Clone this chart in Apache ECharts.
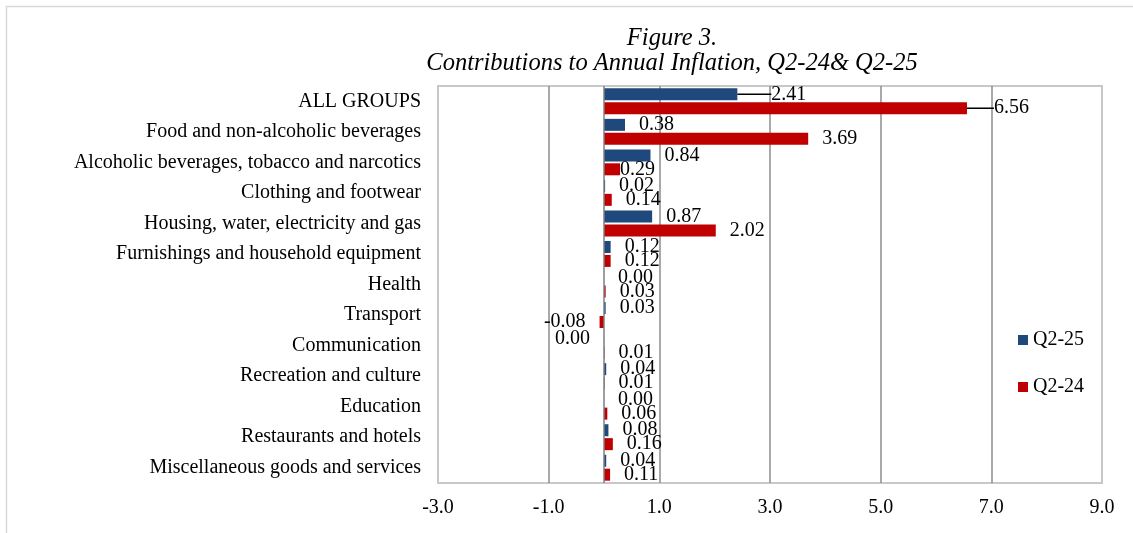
<!DOCTYPE html>
<html>
<head>
<meta charset="utf-8">
<script src="https://cdn.jsdelivr.net/npm/echarts@6/dist/echarts.min.js"></script>
<style>
html,body{margin:0;padding:0;background:#fff;}
#chart{width:1133px;height:533px;}
</style>
</head>
<body>
<div id="chart"></div>
<script>
const categories = [
  'ALL GROUPS',
  'Food and non-alcoholic beverages',
  'Alcoholic beverages, tobacco and narcotics',
  'Clothing and footwear',
  'Housing, water, electricity and gas',
  'Furnishings and household equipment',
  'Health',
  'Transport',
  'Communication',
  'Recreation and culture',
  'Education',
  'Restaurants and hotels',
  'Miscellaneous goods and services'
];
const q225 = [2.41, 0.38, 0.84, 0.02, 0.87, 0.12, 0.00, 0.03, -0.001, 0.04, 0.00, 0.08, 0.04];
const q224 = [6.56, 3.69, 0.29, 0.14, 2.02, 0.12, 0.03, -0.08, 0.01, 0.01, 0.06, 0.16, 0.11];
const xTicks = [-3, -1, 1, 3, 5, 7, 9];
const seriesNames = ['Q2-25', 'Q2-24'];
const seriesColors = ['#1F497D', '#C00000'];

const FONT = 'Liberation Serif';

function fmt(p) {
  const s = Number(p.value).toFixed(2);
  return s === '-0.00' ? '0.00' : s;
}
function buildData(arr) {
  return arr.map((v, i) => ({
    value: v,
    label: { position: v < 0 ? 'left' : 'right' },
    labelLine: { show: i === 0 }
  }));
}

const chart = echarts.init(document.getElementById('chart'), null, { renderer: 'canvas' });

const labelBase = {
  show: true,
  distance: 14,
  color: '#000',
  fontFamily: FONT,
  fontSize: 20,
  formatter: fmt
};

const option = {
  backgroundColor: '#fff',
  animation: false,
  graphic: [{
    type: 'rect',
    left: 4, top: 4,
    shape: { width: 1200, height: 600 },
    style: { fill: 'none', stroke: '#d9d9d9', lineWidth: 1.5 },
    silent: true, z: -10
  }],
  title: {
    text: 'Figure 3.\nContributions to Annual Inflation, Q2-24& Q2-25',
    left: 667,
    top: 21,
    textAlign: 'center',
    textStyle: {
      fontFamily: FONT,
      fontStyle: 'italic',
      fontWeight: 'normal',
      fontSize: 24.5,
      lineHeight: 25,
      color: '#000'
    }
  },
  legend: {
    orient: 'vertical',
    left: 1013,
    top: 325,
    itemWidth: 10,
    itemHeight: 10,
    itemGap: 27,
    icon: 'rect',
    textStyle: { fontFamily: FONT, fontSize: 20, color: '#000' },
    data: seriesNames
  },
  grid: {
    left: 438, right: 31, top: 86, bottom: 50,
    containLabel: false,
    outerBoundsMode: 'none',
    show: true,
    borderColor: '#c8c8c8',
    borderWidth: 2
  },
  xAxis: {
    type: 'value',
    min: -3,
    max: 9,
    axisLine: { show: false },
    axisTick: { show: false, customValues: xTicks },
    axisLabel: {
      customValues: xTicks,
      margin: 15,
      fontFamily: FONT,
      fontSize: 20,
      color: '#000',
      formatter: v => Number(v).toFixed(1)
    },
    splitLine: {
      show: true,
      lineStyle: { color: ['#c8c8c8', '#8c8c8c', '#8c8c8c', '#8c8c8c', '#8c8c8c', '#8c8c8c', '#c8c8c8'], width: 1.5 }
    }
  },
  yAxis: {
    type: 'category',
    inverse: true,
    data: categories,
    axisLine: { show: false, onZero: false },
    axisTick: { show: false },
    axisLabel: {
      margin: 17,
      fontFamily: FONT,
      fontSize: 20,
      color: '#000'
    }
  },
  series: [
    {
      name: seriesNames[0],
      type: 'bar',
      data: buildData(q225),
      barWidth: 12,
      barGap: '16%',
      itemStyle: { color: seriesColors[0] },
      label: labelBase,
      labelLine: { show: false, lineStyle: { color: '#000', width: 1.5 } },
      labelLayout: function (p) {
        if (p.dataIndex === 0) return { dx: 20 };
        return {};
      },
      markLine: {
        silent: true,
        symbol: 'none',
        label: { show: false },
        lineStyle: { color: '#7f7f7f', width: 1.5, type: 'solid' },
        data: [{ xAxis: 0 }]
      }
    },
    {
      name: seriesNames[1],
      type: 'bar',
      data: buildData(q224),
      barWidth: 12,
      barGap: '16%',
      itemStyle: { color: seriesColors[1] },
      label: labelBase,
      labelLine: { show: false, lineStyle: { color: '#000', width: 1.5 } },
      labelLayout: function (p) {
        if (p.dataIndex === 0) return { dx: 13 };
        if (p.dataIndex === 2) return { dx: -14 };
        return {};
      }
    }
  ]
};
chart.setOption(option);
</script>
</body>
</html>
